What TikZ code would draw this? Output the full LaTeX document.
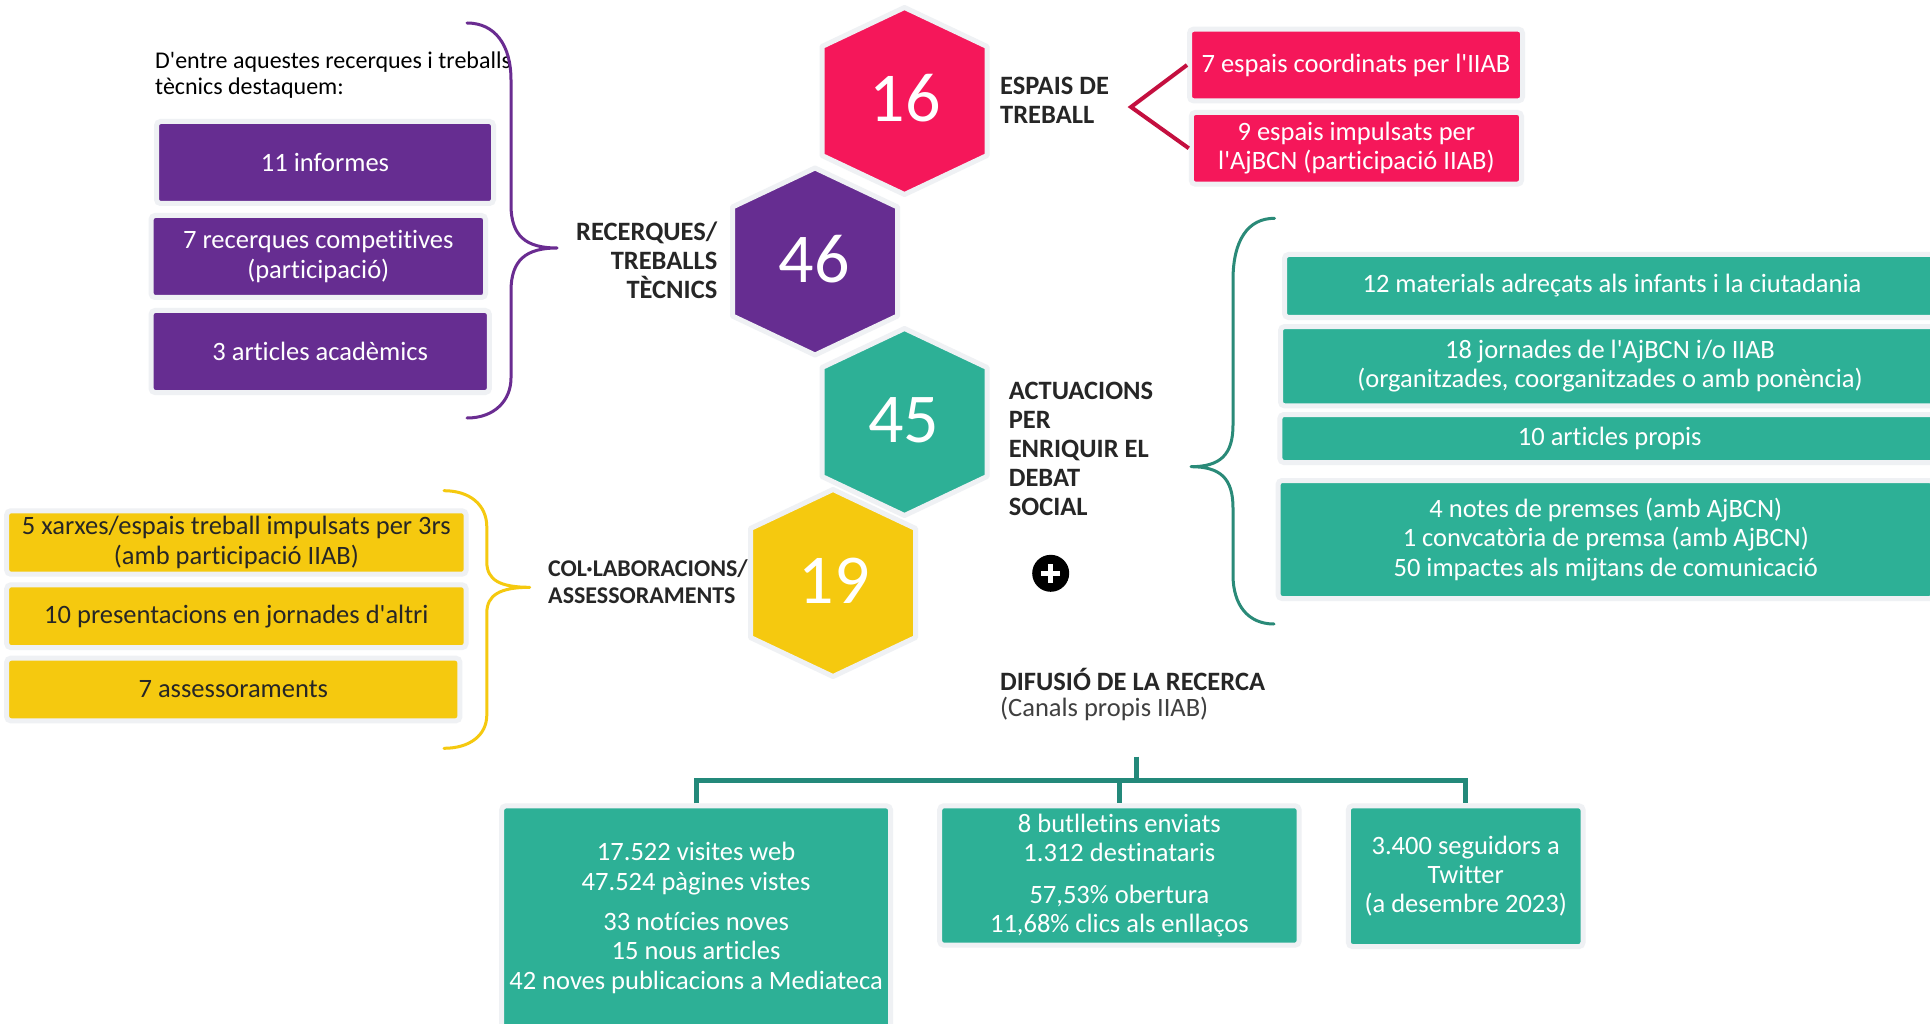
\documentclass[tikz,border=0pt]{standalone}
\usepackage{fontspec}
\setmainfont{Carlito}[Ligatures={NoCommon}]
\definecolor{cpink}{HTML}{F5175A}
\definecolor{cpurple}{HTML}{662D91}
\definecolor{cteal}{HTML}{2DB096}
\definecolor{cyellow}{HTML}{F5C90F}
\definecolor{cframe}{HTML}{EFF1F4}
\definecolor{cpinkline}{HTML}{C40F3F}
\definecolor{ctree}{HTML}{23897A}
\definecolor{ctealbrace}{HTML}{2A8A78}
\definecolor{cpurplebrace}{HTML}{6A2C91}
\definecolor{clabel}{HTML}{262626}
\definecolor{csub}{HTML}{404040}
\newcommand{\myq}{\textquotesingle}
\newcommand{\hexfill}[3]{%
  \filldraw[fill=#3, draw=cframe, line width=5pt, line join=round]
    (#1,#2-93.5) -- (#1+82.5,#2-54.5) -- (#1+82.5,#2+54.5) -- (#1,#2+93.5)
    -- (#1-82.5,#2+54.5) -- (#1-82.5,#2-54.5) -- cycle;}
\begin{document}
\begin{tikzpicture}[x=1pt,y=-1pt,
  cbox/.style={rectangle, rounded corners=4pt, draw=cframe, line width=5pt,
    inner sep=0pt, align=center, font=\fontsize{26.5}{29.4}\selectfont},
  purplebox/.style={cbox, fill=cpurple, text=white},
  pinkbox/.style={cbox, fill=cpink, text=white},
  tealbox/.style={cbox, fill=cteal, text=white},
  yellowbox/.style={cbox, fill=cyellow, text=clabel},
  hexnum/.style={inner sep=0pt, text=white, font=\fontsize{70}{70}\selectfont},
  headtext/.style={inner sep=0pt, text=clabel, font=\bfseries\fontsize{26.5}{28.8}\selectfont},
  bracepath/.style={line width=3pt, line cap=round, line join=round},
  treeline/.style={draw=ctree, line width=5pt},
]
\useasboundingbox (0,0) rectangle (1930,1024);
\clip (0,0) rectangle (1930,1024);
\fill[white] (0,0) rectangle (1930,1024);

% hexagons
\hexfill{904.5}{101}{cpink}
\hexfill{815}{261.5}{cpurple}
\hexfill{904.5}{422}{cteal}
\hexfill{833}{583}{cyellow}
\node[hexnum] (n16) at (905,98.3) {16};
\node[hexnum] (n46) at (814,259) {46};
\node[hexnum] (n45) at (903.5,420) {45};
\node[hexnum] (n19) at (834,580.5) {19};

% labels (base anchor = baseline of the last line)
\node[headtext, align=left, anchor=base west] (lesp) at (1000,123.3) {ESPAIS DE\\TREBALL};
\node[headtext, align=right, anchor=base east] (lrec) at (717.5,298.3) {RECERQUES/\\TREBALLS\\TÈCNICS};
\node[headtext, align=left, anchor=base west] (lact) at (1008.6,515) {ACTUACIONS\\PER\\ENRIQUIR EL\\DEBAT\\SOCIAL};
\node[headtext, font=\bfseries\fontsize{24}{26.6}\selectfont, align=left, anchor=base west] (lcol) at (548,603.3) {COL·LABORACIONS/\\ASSESSORAMENTS};
\node[inner sep=0pt, align=left, anchor=base west, font=\fontsize{24}{26}\selectfont] (intro) at (155,95) {D\myq entre aquestes recerques i treballs\\tècnics destaquem:};
\node[inner sep=0pt, align=left, anchor=base west, font=\fontsize{26.5}{26.7}\selectfont] (ldif) at (1000,716.7) {\textbf{\color{clabel}DIFUSIÓ DE LA RECERCA}\\{\color{csub}(Canals propis IIAB)}};

% braces
\draw[bracepath, draw=cpurplebrace] (467,23) .. controls (495,23) and (511,45) .. (511,80) -- (511,205) .. controls (511,236) and (526,248) .. (557,248) .. controls (526,248) and (511,260) .. (511,291) -- (511,378) .. controls (511,400) and (495,418) .. (467,418);
\draw[bracepath, draw=ctealbrace] (1274.5,218.3) .. controls (1248,218.3) and (1233,240) .. (1233,280) -- (1233,425) .. controls (1233,455) and (1220,466.7) .. (1191,466.7) .. controls (1220,466.7) and (1233,478) .. (1233,508) -- (1233,575) .. controls (1233,605) and (1248,624) .. (1274,624);
\draw[bracepath, draw=cyellow] (444,490.7) .. controls (470,490.7) and (486.8,505) .. (486.8,527) -- (486.8,562) .. controls (486.8,580) and (500,587.3) .. (529.7,587.3) .. controls (500,587.3) and (486.8,595) .. (486.8,613) -- (486.8,715) .. controls (486.8,735) and (470,748.3) .. (444,748.3);

% purple boxes
\node[purplebox, minimum width=337pt, minimum height=82pt] (p1) at (325,162.5) {11 informes};
\node[purplebox, minimum width=334.5pt, minimum height=82pt] (p2) at (318.3,256.5) {7 recerques competitives\\(participació)};
\node[purplebox, minimum width=338.3pt, minimum height=82pt] (p3) at (320.2,351.5) {3 articles acadèmics};

% pink boxes
\node[pinkbox, minimum width=333pt, minimum height=71.6pt] (k1) at (1356,65) {7 espais coordinats per l\myq IIAB};
\node[pinkbox, minimum width=330.2pt, minimum height=71.7pt] (k2) at (1356.4,148.3) {9 espais impulsats per\\l\myq AjBCN (participació IIAB)};
\coordinate (pv) at (1131,107);
\draw[draw=cpinkline, line width=4pt] (k1.west) -- (pv) -- (k2.west);

% teal boxes right
\node[tealbox, minimum width=655pt, minimum height=63pt] (t1) at (1612,286) {12 materials adreçats als infants i la ciutadania};
\node[tealbox, minimum width=659pt, minimum height=79.3pt] (t2) at (1610,366.2) {18 jornades de l\myq AjBCN i/o IIAB\\(organitzades, coorganitzades o amb ponència)};
\node[tealbox, minimum width=659.6pt, minimum height=48pt] (t3) at (1609.7,438.5) {10 articles propis};
\node[tealbox, minimum width=655.5pt, minimum height=118pt] (t4) at (1605.8,539.5) {4 notes de premses (amb AjBCN)\\1 convcatòria de premsa (amb AjBCN)\\50 impactes als mijtans de comunicació};

% yellow boxes
\node[yellowbox, minimum width=459.4pt, minimum height=63.4pt] (y1) at (236.4,542.5) {5 xarxes/espais treball impulsats per 3rs\\(amb participació IIAB)};
\node[yellowbox, minimum width=459.4pt, minimum height=62.7pt] (y2) at (236.4,616.2) {10 presentacions en jornades d\myq altri};
\node[yellowbox, minimum width=453.2pt, minimum height=62.6pt] (y3) at (233.3,689.5) {7 assessoraments};

% plus
\node[circle, fill=black, minimum size=37pt, inner sep=0pt] (plus) at (1050.7,573.3) {};
\draw[white, line width=4.5pt] ([xshift=-9.5pt]plus.center) -- ([xshift=9.5pt]plus.center);
\draw[white, line width=4.5pt] ([yshift=-9.5pt]plus.center) -- ([yshift=9.5pt]plus.center);

% bottom boxes
\node[tealbox, minimum width=388.8pt, minimum height=224.3pt] (ba) at (696.1,918) {17.522 visites web\\47.524 pàgines vistes\\[11pt]33 notícies noves\\15 nous articles\\42 noves publicacions a Mediateca};
\node[tealbox, minimum width=359.4pt, minimum height=139.4pt] (bb) at (1119.4,875.5) {8 butlletins enviats\\1.312 destinataris\\[12pt]57,53\% obertura\\11,68\% clics als enllaços};
\node[tealbox, minimum width=234.6pt, minimum height=140.7pt] (bc) at (1465.7,876.2) {3.400 seguidors a\\Twitter\\(a desembre 2023)};

% tree
\coordinate (stemtop) at (1136.6,756.7);
\coordinate (bar) at (1136.6,780.5);
\draw[treeline] (stemtop) -- (bar);
\draw[treeline] (ba.north) -- (ba.north |- bar) -- (bc.north |- bar) -- (bc.north);
\draw[treeline] (bb.north |- bar) -- (bb.north);
\end{tikzpicture}
\end{document}
